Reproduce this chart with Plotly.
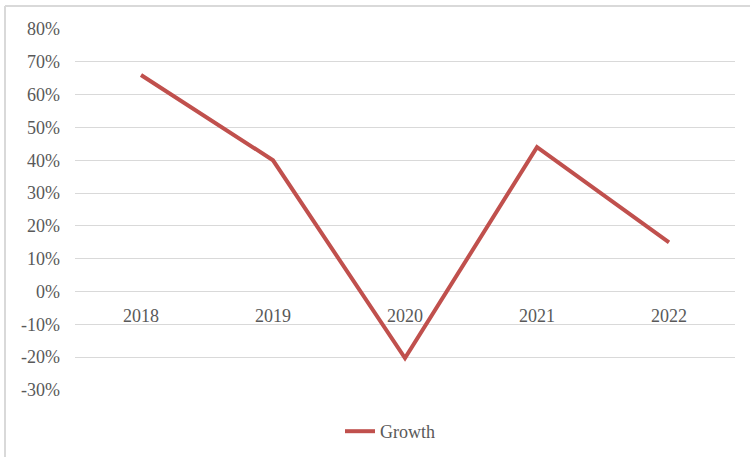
import plotly.graph_objects as go

years = ["2018", "2019", "2020", "2021", "2022"]
growth = [66, 40, -20.3, 44, 15]
y_tick_vals = [80, 70, 60, 50, 40, 30, 20, 10, 0, -10, -20, -30]
y_tick_text = ["80%", "70%", "60%", "50%", "40%", "30%", "20%", "10%", "0%", "-10%", "-20%", "-30%"]

Y_MIN, Y_MAX = -30, 80
font_family = "Liberation Serif, Times New Roman, serif"
text_color = "#595959"

fig = go.Figure()
fig.add_trace(go.Scatter(
    x=years, y=growth, mode="lines", name="Growth",
    line=dict(color="#C0504D", width=4), xaxis="x", yaxis="y",
    hoverinfo="skip",
))

W, H = 750, 457
ml, mr, mt, mb = 75, 15, 29, 67
pw, ph = W - ml - mr, H - mt - mb

bx0 = (5 - ml) / pw
bx1 = (W + 20 - ml) / pw
by0 = -(H + 20 - mt - ph) / ph
by1 = (mt - 6) / ph + 1

fig.update_layout(
    width=W, height=H,
    margin=dict(l=ml, r=mr, t=mt, b=mb, autoexpand=False),
    paper_bgcolor="white", plot_bgcolor="white",
    font=dict(family=font_family, size=18, color=text_color),
    showlegend=True,
    legend=dict(orientation="h", x=(340 - ml) / pw, xanchor="left",
                y=-(413 - mt - ph) / ph, yanchor="top",
                font=dict(size=18, color=text_color)),
    xaxis=dict(type="category", range=[-0.5, 4.5], showgrid=False, showline=False,
               zeroline=False, ticks="", anchor="free", automargin=False,
               position=(0 - Y_MIN) / (Y_MAX - Y_MIN), ticklabelstandoff=11),
    yaxis=dict(range=[Y_MIN, Y_MAX], tickvals=y_tick_vals, ticktext=y_tick_text,
               showgrid=True, gridcolor="#d9d9d9", gridwidth=1, zeroline=False,
               showline=False, ticks="", ticklabelstandoff=14, domain=[0, 1],
               automargin=False),
    shapes=[
        dict(type="line", xref="paper", yref="paper", x0=bx0, x1=bx0, y0=by0, y1=by1,
             line=dict(color="#d9d9d9", width=2), layer="below"),
        dict(type="line", xref="paper", yref="paper", x0=bx0, x1=bx1, y0=by1, y1=by1,
             line=dict(color="#d9d9d9", width=2), layer="below"),
    ],
)

fig.write_html("out.html", config={"displayModeBar": False},
               post_script="document.body.style.margin='0';"
                           "document.body.style.overflow='hidden';"
                           "document.documentElement.style.overflow='hidden';")
